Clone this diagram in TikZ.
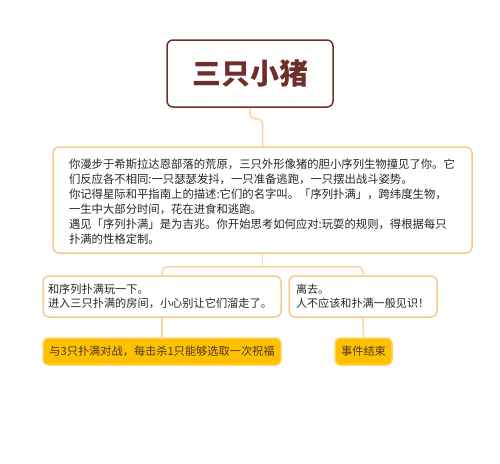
\documentclass[tikz,border=0pt]{standalone}
\usepackage{fontspec}
\setmainfont{Noto Sans CJK SC}
\usepackage{xcolor}
\usepackage{tikz}
\usetikzlibrary{
  positioning,
  calc
}

\definecolor{titlebrown}{HTML}{6E2E2A}
\definecolor{linkorange}{HTML}{FCD39E}
\definecolor{boxorange}{HTML}{FBC98A}
\definecolor{goldfill}{HTML}{FFC000}
\definecolor{goldedge}{HTML}{FFD466}
\definecolor{textgray}{HTML}{262626}
\definecolor{textbrown}{HTML}{4A3A2A}

\tikzset{
  titlebox/.style={draw=titlebrown,line width=1.5pt,rounded corners=6pt,fill=white,
    text=titlebrown,font=\fontsize{29}{32}\selectfont\bfseries,
    minimum width=166pt,minimum height=67pt,inner sep=0pt},
  storybox/.style={draw=boxorange,line width=1.5pt,rounded corners=6pt,fill=white,
    text=textgray,align=left,inner ysep=0pt},
  endbox/.style={draw=goldedge,line width=1.5pt,rounded corners=5pt,fill=goldfill,
    text=textbrown,font=\fontsize{11.2}{13.6}\selectfont,
    minimum height=27pt,inner xsep=0pt,inner ysep=0pt},
  link/.style={draw=linkorange,line width=1.5pt,rounded corners=5pt}
}

\begin{document}
\begin{tikzpicture}[x=1pt,y=-1pt]
  \useasboundingbox (0,0) rectangle (500,463);

  % タイトル
  \node[titlebox] (title) at (250,73.5) {三只小猪};

  % 導入の文章
  \node[storybox,font=\fontsize{11.35}{15}\selectfont,inner xsep=16pt,
        text width=387pt,minimum height=106pt] (intro) at (262.5,200)
    {\\[-2pt]
     你漫步于希斯拉达恩部落的荒原，三只外形像猪的胆小序列生物撞见了你。它\\
     们反应各不相同:一只瑟瑟发抖，一只准备逃跑，一只摆出战斗姿势。\\
     你记得星际和平指南上的描述:它们的名字叫。「序列扑满」，跨纬度生物，\\
     一生中大部分时间，花在进食和逃跑。\\
     遇见「序列扑满」是为吉兆。你开始思考如何应对:玩耍的规则，得根据每只\\
     扑满的性格定制。};

  % 選択肢
  \node[storybox,font=\fontsize{11.2}{13.6}\selectfont,inner xsep=5pt,
        text width=228pt,minimum height=41pt] (play) at (162,296.5)
    {和序列扑满玩一下。\\
     进入三只扑满的房间，小心别让它们溜走了。};
  \node[storybox,font=\fontsize{11.1}{13.6}\selectfont,inner xsep=7pt,
        text width=134pt,minimum height=41pt] (leave) at (363,296.5)
    {离去。\\
     人不应该和扑满一般见识！};

  % 結果
  \node[endbox,minimum width=238pt] (fight) at (162,351.5)
    {与3只扑满对战，每击杀1只能够选取一次祝福};
  \node[endbox,minimum width=57pt] (finish) at (363.5,351.5) {事件结束};

  % つなぐ線
  \draw[link] (title.south) -- ++(0,11) -| (intro.north);
  \draw[link] (intro.south) -- ++(0,13) coordinate (fork);
  \draw[link] (play.north) |- (fork) -| (leave.north);
  \draw[link] (play.south) -- (fight.north);
  \draw[link] (leave.south) -- (finish.north);
\end{tikzpicture}
\end{document}
